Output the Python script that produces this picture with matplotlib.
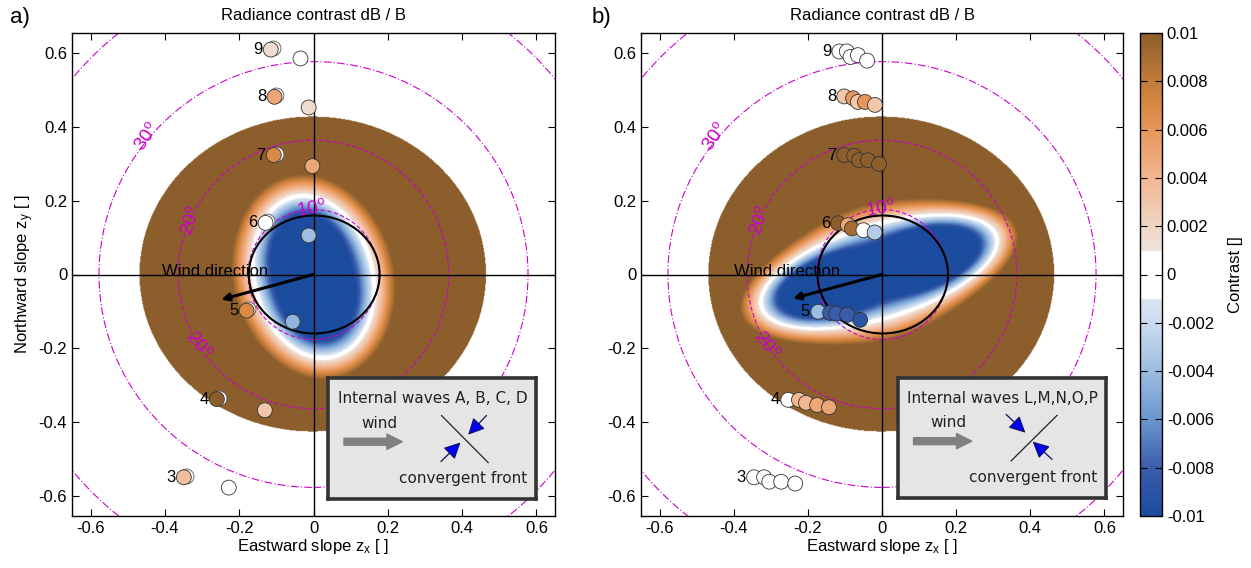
import numpy as np
import matplotlib.pyplot as plt
from matplotlib.colors import ListedColormap, to_rgb
from matplotlib.patches import Ellipse, Circle, FancyArrowPatch

plt.rcParams['font.family'] = ['Liberation Sans', 'DejaVu Sans']
plt.rcParams['mathtext.default'] = 'regular'

# colour scale of the contrast
cmap_vals = [-0.01, -0.008, -0.006, -0.004, -0.002, -0.001, 0.001, 0.002, 0.004, 0.006, 0.007, 0.008, 0.01]
cmap_cols = ['#1b4c9e', '#3b5cab', '#6a97cf', '#9dbde2', '#cbdbee', '#dae5f1',
             '#efe2da', '#efd6c6', '#f3b791', '#e6965a', '#d98a44', '#c27b3a', '#8c5e2c']
cbar_ticks = [0.01, 0.008, 0.006, 0.004, 0.002, 0, -0.002, -0.004, -0.006, -0.008, -0.01]
cbar_labels = ['0.01', '0.008', '0.006', '0.004', '0.002', '0', '-0.002', '-0.004', '-0.006', '-0.008', '-0.01']

# glitter disk and negative-contrast ellipse (centre x, centre y, semi-axis a, semi-axis b, angle)
disk = [-0.002, 0.0, 0.467, 0.427]
blob_a = [0.0, -0.008, 0.158, 0.222, 14]
blob_b = [-0.008, 0.006, 0.33, 0.125, 17]
sun_ellipse = [0.002, 0.0, 0.176, 0.16]

# view-angle circles
view_deg = [10, 20, 30, 40]
deg_text = ['10$^o$', '20$^o$', '20$^o$', '30$^o$']
deg_x = [-0.005, -0.33, -0.31, -0.45]
deg_y = [0.18, 0.145, -0.19, 0.373]
deg_rot = [10, 72, -52, 55]

# wind
wind_a = [-0.248, -0.068]
wind_b = [-0.24, -0.065]

# observation points, panel a (one list per group 9..3)
grp = ['9', '8', '7', '6', '5', '4', '3']
a_x = [[-0.115, -0.035], [-0.105, -0.013], [-0.107, -0.003], [-0.129, -0.013],
       [-0.18, -0.056], [-0.26, -0.131], [-0.349, -0.228]]
a_y = [[0.61, 0.586], [0.482, 0.453], [0.324, 0.294], [0.14, 0.106],
       [-0.098, -0.128], [-0.338, -0.368], [-0.55, -0.578]]
a_c = [[0.0015, 0.0], [0.005, 0.0015], [0.007, 0.005], [0.0, -0.004],
       [0.007, -0.0045], [0.01, 0.003], [0.0035, 0.0]]

# observation points, panel b
b_x = [[-0.115, -0.095, -0.085, -0.065, -0.04],
       [-0.102, -0.078, -0.065, -0.046, -0.019],
       [-0.102, -0.075, -0.062, -0.038, -0.008],
       [-0.118, -0.092, -0.081, -0.05, -0.02],
       [-0.172, -0.14, -0.124, -0.094, -0.059],
       [-0.253, -0.224, -0.205, -0.175, -0.143],
       [-0.345, -0.318, -0.304, -0.272, -0.234]]
b_y = [[0.605, 0.605, 0.59, 0.595, 0.58],
       [0.483, 0.478, 0.468, 0.468, 0.46],
       [0.324, 0.322, 0.31, 0.31, 0.30],
       [0.139, 0.134, 0.125, 0.12, 0.114],
       [-0.101, -0.104, -0.106, -0.109, -0.123],
       [-0.34, -0.34, -0.348, -0.354, -0.36],
       [-0.55, -0.55, -0.562, -0.562, -0.567]]
b_c = [[0, 0, 0, 0, 0],
       [0.003, 0.006, 0.003, 0.006, 0.003],
       [0.01, 0.01, 0.01, 0.01, 0.01],
       [0.01, 0.005, 0.009, 0.0, -0.003],
       [-0.004, -0.008, -0.008, -0.008, -0.009],
       [0.0, 0.004, 0.004, 0.005, 0.005],
       [0, 0, 0, 0, 0]]

inset_a = [0.04, -0.61, 0.56, 0.33]
inset_b = [0.043, -0.607, 0.561, 0.327]

# build colormap with white band around zero
v = np.linspace(-0.01, 0.01, 1001)
rgb = np.array([to_rgb(c) for c in cmap_cols])
cols = np.stack([np.interp(v, cmap_vals, rgb[:, i]) for i in range(3)], axis=1)
cols[np.abs(v) < 0.001] = 1.0
cmap = ListedColormap(cols)
cmap.set_bad('white')

gx = np.linspace(-0.65, 0.65, 700)
X, Y = np.meshgrid(gx, gx)


def field(blob):
    cx, cy, a, b, ang = blob
    t = np.deg2rad(ang)
    dx, dy = X - cx, Y - cy
    p = dx * np.cos(t) + dy * np.sin(t)
    q = -dx * np.sin(t) + dy * np.cos(t)
    d = np.sqrt((p / a) ** 2 + (q / b) ** 2)
    r = np.sqrt(p ** 2 + q ** 2)
    dist = (r / np.maximum(d, 1e-6)) * (d - 1)
    c = np.interp(dist, [-0.05, -0.006, 0.008, 0.06], [-0.01, -0.0012, 0.0012, 0.01])
    out = ((X - disk[0]) / disk[2]) ** 2 + ((Y - disk[1]) / disk[3]) ** 2 > 1
    c[out] = np.nan
    return c


fig = plt.figure(figsize=(12.51, 5.68), dpi=100)
ax1 = fig.add_axes([72 / 1251, 52 / 568, 483 / 1251, 483 / 568])
ax2 = fig.add_axes([641 / 1251, 52 / 568, 482 / 1251, 483 / 568])
cax = fig.add_axes([1140 / 1251, 52 / 568, 22 / 1251, 483 / 568])

panels = [(ax1, blob_a, a_x, a_y, a_c, wind_a, inset_a, 'A, B, C, D', 'a)'),
          (ax2, blob_b, b_x, b_y, b_c, wind_b, inset_b, 'L,M,N,O,P', 'b)')]

for ax, blob, px, py, pc, wind, box, waves, tag in panels:
    im = ax.imshow(field(blob), extent=(-0.65, 0.65, -0.65, 0.65), origin='lower',
                   cmap=cmap, vmin=-0.01, vmax=0.01, interpolation='bilinear', aspect='auto', zorder=0)
    for deg in view_deg:
        ls = (0, (4, 2)) if deg < 30 else (0, (7, 2, 1, 2))
        ax.add_patch(Circle((0, 0), np.tan(np.deg2rad(deg)), fill=False, ec='#cc00cc',
                            lw=0.8, ls=ls, zorder=2))
    for t, x, y, r in zip(deg_text, deg_x, deg_y, deg_rot):
        ax.text(x, y, t, color='#cc00cc', fontsize=13.5, rotation=r, ha='center', va='center', zorder=3)
    ax.axhline(0, color='k', lw=1, zorder=2)
    ax.axvline(0, color='k', lw=1, zorder=2)
    ax.add_patch(Ellipse((sun_ellipse[0], sun_ellipse[1]), 2 * sun_ellipse[2], 2 * sun_ellipse[3],
                         fill=False, ec='k', lw=1.5, zorder=3))

    ax.annotate('', xy=(wind[0], wind[1]), xytext=(0, 0),
                arrowprops=dict(arrowstyle='-|>', color='k', lw=2.2, mutation_scale=11,
                                shrinkA=0, shrinkB=0), zorder=6)
    ax.text(wind[0] - 0.016, 0.008, 'Wind direction', fontsize=12, ha='center', va='center', zorder=6)

    for g, xs, ys, cs in zip(grp, px, py, pc):
        if tag == 'a)':
            ax.scatter([xs[0] + 0.005], [ys[0] + 0.004], s=115, facecolors='white',
                       edgecolors='#555555', linewidths=0.6, zorder=4)
        ax.scatter(xs, ys, c=cs, cmap=cmap, vmin=-0.01, vmax=0.01, s=115,
                   edgecolors='#333333', linewidths=0.6, zorder=5)
        ax.text(xs[0] - 0.022, ys[0], g, fontsize=12, ha='right', va='center', zorder=5)

    # legend box
    axi = ax.inset_axes(box, transform=ax.transData, zorder=10)
    axi.set_facecolor('#e5e5e5')
    axi.set_xlim(0, 1)
    axi.set_ylim(0, 1)
    axi.set_xticks([])
    axi.set_yticks([])
    for s in axi.spines.values():
        s.set_color('#333333')
        s.set_linewidth(2.6)
    tf = dict(family=['DejaVu Sans'], fontsize=11, color='#222222', ha='center', va='center')
    axi.text(0.5, 0.83, 'Internal waves ' + waves, **tf)
    axi.text(0.245, 0.625, 'wind', **tf)
    axi.text(0.65, 0.17, 'convergent front', **tf)
    axi.annotate('', xy=(0.355, 0.474), xytext=(0.075, 0.474),
                 arrowprops=dict(facecolor='#808080', edgecolor='#808080', width=5,
                                 headwidth=11, headlength=11, shrink=0))
    if tag == 'a)':
        front = [[0.544, 0.768], [0.689, 0.303]]
        arrs = [[(0.76, 0.69), (0.672, 0.532)], [(0.541, 0.311), (0.635, 0.468)]]
    else:
        front = [[0.544, 0.765], [0.31, 0.688]]
        arrs = [[(0.52, 0.696), (0.613, 0.544)], [(0.741, 0.323), (0.648, 0.47)]]
    axi.plot(front[0], front[1], color='#222222', lw=0.9)
    for a0, a1 in arrs:
        axi.add_patch(FancyArrowPatch(a0, a1, arrowstyle='-|>,head_length=0.9,head_width=0.45',
                                      mutation_scale=11, fc='blue', ec='#101060', lw=0.9,
                                      shrinkA=0, shrinkB=0, transform=axi.transAxes))

    ax.set_xlim(-0.65, 0.65)
    ax.set_ylim(-0.655, 0.655)
    ticks = [-0.6, -0.4, -0.2, 0, 0.2, 0.4, 0.6]
    ax.set_xticks(ticks)
    ax.set_yticks(ticks)
    ax.set_xticklabels(['-0.6', '-0.4', '-0.2', '0', '0.2', '0.4', '0.6'])
    ax.set_yticklabels(['-0.6', '-0.4', '-0.2', '0', '0.2', '0.4', '0.6'])
    ax.tick_params(direction='in', top=True, right=True, length=5, labelsize=12)
    ax.set_xlabel('Eastward slope z$_x$ [ ]', fontsize=12, labelpad=1)
    ax.set_title('Radiance contrast dB / B', fontsize=12, pad=9)
    for s in ax.spines.values():
        s.set_linewidth(1)

ax1.set_ylabel('Northward slope z$_y$ [ ]', fontsize=12, labelpad=2)
fig.text(0.008, 0.97, 'a)', fontsize=16, ha='left', va='center')
fig.text(0.473, 0.97, 'b)', fontsize=16, ha='left', va='center')

cb = fig.colorbar(im, cax=cax, ticks=cbar_ticks)
cb.ax.set_yticklabels(cbar_labels)
cb.ax.tick_params(direction='in', left=True, right=True, length=5, labelsize=12)
cb.set_label('Contrast []', fontsize=12, labelpad=10)
cb.outline.set_linewidth(1)

fig.savefig('out.png', dpi=100)
